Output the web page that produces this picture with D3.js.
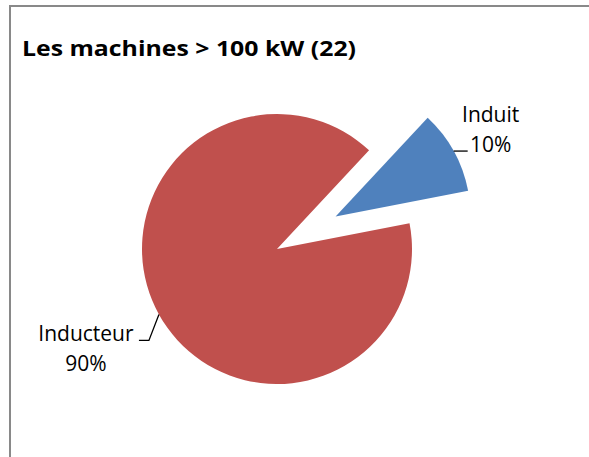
<!DOCTYPE html>
<html>
<head>
<meta charset="utf-8">
<script src="https://cdn.jsdelivr.net/npm/d3@7"></script>
<style>
  body { margin: 0; background: #fff; }
  svg text { font-family: "Open Sans", "Liberation Sans", sans-serif; }
</style>
</head>
<body>
<div id="chart"></div>
<script>
// data
const categories = ["Induit", "Inducteur"];
const values = [10, 90];
const percentLabels = ["10%", "90%"];
const colors = ["#4F81BD", "#C0504D"];
const title = "Les machines > 100 kW (22)";

const width = 589, height = 457;
const cx = 277, cy = 249, radius = 135;
const explode = 67;           // offset of the pulled-out slice
const startDeg = 43;          // first slice angle

const svg = d3.select("#chart").append("svg")
    .attr("width", width)
    .attr("height", height);

// chart area frame (only left and top edges visible in the crop)
svg.append("rect")
    .attr("x", 10).attr("y", 6)
    .attr("width", 600).attr("height", 500)
    .attr("fill", "none")
    .attr("stroke", "#898989")
    .attr("stroke-width", 2);

svg.append("text")
    .attr("x", 22).attr("y", 56)
    .attr("font-size", 22)
    .attr("font-weight", "bold")
    .attr("fill", "#000")
    .attr("textLength", 334)
    .attr("lengthAdjust", "spacingAndGlyphs")
    .text(title);

let pie = d3.pie().sort(null)
    .startAngle(startDeg * Math.PI / 180)
    .endAngle(startDeg * Math.PI / 180 + 2 * Math.PI);
let arcs = pie(values);

let arc = d3.arc().innerRadius(0).outerRadius(radius);

let g = svg.append("g").attr("transform", `translate(${cx},${cy})`);

function offsetOf(d, i) {
    if (i !== 0) return [0, 0];
    let a = (d.startAngle + d.endAngle) / 2;
    return [Math.sin(a) * explode, -Math.cos(a) * explode];
}

g.selectAll("path").data(arcs)
    .enter()
    .append("path")
    .attr("d", arc)
    .attr("transform", (d, i) => { let o = offsetOf(d, i); return `translate(${o[0]},${o[1]})`; })
    .attr("fill", (d, i) => colors[i]);

// label layout: leader line from slice edge, then text block
let labelLayout = [
    {bend: [0, 0], end: [14, 0], tx: 23, ty: -29},
    {bend: [-10, 26], end: [-20, 26], tx: -53, ty: 1}
];

arcs.forEach(function (d, i) {
    let a = (d.startAngle + d.endAngle) / 2;
    let o = offsetOf(d, i);
    let px = Math.sin(a) * radius + o[0];
    let py = -Math.cos(a) * radius + o[1];
    let L = labelLayout[i];
    let pts = [[px, py], [px + L.bend[0], py + L.bend[1]], [px + L.end[0], py + L.end[1]]];
    g.append("path")
        .attr("d", d3.line()(pts))
        .attr("fill", "none")
        .attr("stroke", "#000")
        .attr("stroke-width", 1.3);
    let t = g.append("text")
        .attr("text-anchor", "middle")
        .attr("font-size", 21)
        .attr("fill", "#000");
    let lx = px + L.end[0] + L.tx;
    let ly = py + L.end[1] + L.ty;
    t.append("tspan").attr("x", lx).attr("y", ly).text(categories[i]);
    t.append("tspan").attr("x", lx).attr("y", ly + 30).text(percentLabels[i]);
});
</script>
</body>
</html>
